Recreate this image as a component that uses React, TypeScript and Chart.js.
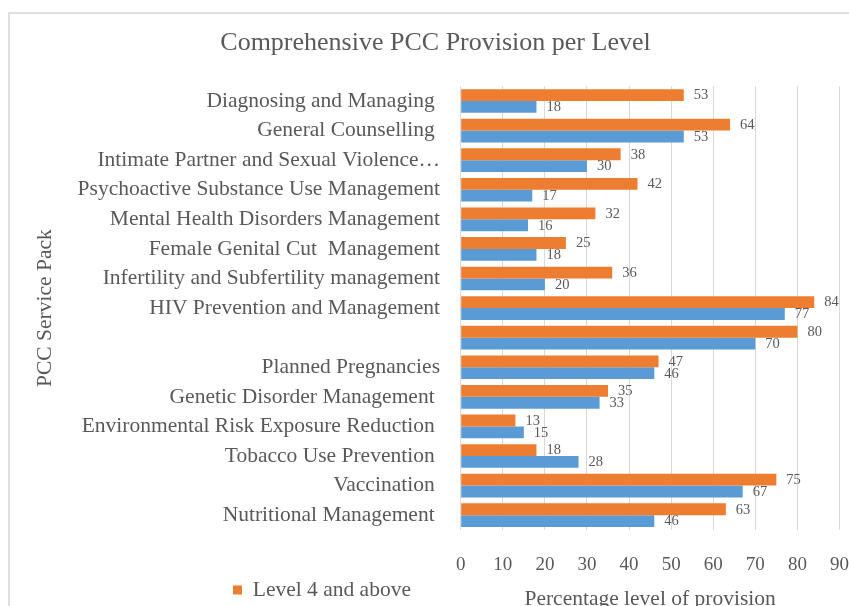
import React, { useEffect, useRef } from "react";
import { Chart, registerables } from "chart.js";

Chart.register(...registerables);

const chartTitle = "Comprehensive PCC Provision per Level";
const categories = [
  "Diagnosing and Managing ",
  "General Counselling ",
  "Intimate Partner and Sexual Violence…",
  "Psychoactive Substance Use Management",
  "Mental Health Disorders Management",
  "Female Genital Cut  Management",
  "Infertility and Subfertility management",
  "HIV Prevention and Management",
  "",
  "Planned Pregnancies",
  "Genetic Disorder Management ",
  "Environmental Risk Exposure Reduction ",
  "Tobacco Use Prevention ",
  "Vaccination ",
  "Nutritional Management ",
];
const level4Label = "Level 4 and above";
const level4Values = [53, 64, 38, 42, 32, 25, 36, 84, 80, 47, 35, 13, 18, 75, 63];
const level23Label = "Level 2 and 3";
const level23Values = [18, 53, 30, 17, 16, 18, 20, 77, 70, 46, 33, 15, 28, 67, 46];
const xTickValues = [0, 10, 20, 30, 40, 50, 60, 70, 80, 90];
const xAxisTitle = "Percentage level of provision";
const yAxisTitle = "PCC Service Pack";

const FONT = "'Liberation Serif', 'Times New Roman', serif";
const TEXT = "#595959";

const framePlugin = {
  id: "frame",
  beforeDraw(chart: any) {
    const ctx = chart.ctx;
    ctx.save();
    ctx.strokeStyle = "#e0e0e0";
    ctx.lineWidth = 2;
    ctx.strokeRect(9, 13, chart.width + 20, chart.height + 20);
    ctx.restore();
  },
};

const moverPlugin = {
  id: "mover",
  afterLayout(chart: any) {
    const lg = chart.legend;
    if (lg) {
      const w = lg.right - lg.left;
      lg.left = 233;
      lg.right = 233 + w;
      lg.top = 579.3;
      lg.bottom = 579.3 + lg.height;
    }
    const tb = chart.titleBlock;
    if (tb) {
      tb.left += 8;
      tb.right += 8;
    }
  },
};

const valueLabelPlugin = {
  id: "valueLabels",
  afterDatasetsDraw(chart: any) {
    const ctx = chart.ctx;
    ctx.save();
    ctx.font = `14.5px ${FONT}`;
    ctx.fillStyle = TEXT;
    ctx.textAlign = "left";
    ctx.textBaseline = "middle";
    chart.data.datasets.forEach((ds: any, di: number) => {
      const meta = chart.getDatasetMeta(di);
      meta.data.forEach((bar: any, i: number) => {
        ctx.fillText(String(ds.data[i]), bar.x + 10, bar.y + 0.5);
      });
    });
    ctx.restore();
  },
};

export default function App() {
  const ref = useRef<HTMLCanvasElement | null>(null);
  useEffect(() => {
    if (!ref.current) return;
    const chart = new Chart(ref.current, {
      type: "bar",
      data: {
        labels: categories,
        datasets: [
          {
            label: level4Label,
            data: level4Values,
            backgroundColor: "#ED7D31",
            categoryPercentage: 0.8,
            barPercentage: 1.0,
          },
          {
            label: level23Label,
            data: level23Values,
            backgroundColor: "#5B9BD5",
            categoryPercentage: 0.8,
            barPercentage: 1.0,
          },
        ],
      },
      options: {
        indexAxis: "y",
        animation: false,
        responsive: false,
        maintainAspectRatio: false,
        layout: { padding: { top: 12, left: 6, right: 0, bottom: -37.5 } },
        plugins: {
          title: {
            display: true,
            text: chartTitle,
            color: TEXT,
            font: { family: FONT, size: 26, weight: "normal" },
            padding: { top: 15.4, bottom: 27.6 },
          },
          legend: {
            display: true,
            position: "bottom",
            align: "start",
            labels: {
              filter: (item: any) => item.datasetIndex === 0,
              boxWidth: 9,
              boxHeight: 9,
              padding: 0,
              color: TEXT,
              font: { family: FONT, size: 21.5 },
            },
          },
          tooltip: { enabled: false },
        },
        scales: {
          x: {
            min: 0,
            max: 90,
            afterBuildTicks: (scale: any) => {
              scale.ticks = xTickValues.map((v) => ({ value: v }));
            },
            afterFit: (scale: any) => {
              scale.height = 82;
            },
            grid: {
              color: "#d9d9d9",
              drawTicks: true,
              tickLength: 23.5,
              tickColor: "rgba(0,0,0,0)",
              lineWidth: 1,
            },
            border: { display: false },
            ticks: {
              color: TEXT,
              padding: 0,
              font: { family: FONT, size: 19 },
            },
            title: {
              display: true,
              text: xAxisTitle,
              color: TEXT,
              font: { family: FONT, size: 21.5 },
              padding: { top: 0, bottom: 0 },
            },
          },
          y: {
            afterFit: (scale: any) => {
              scale.width = 454.7;
            },
            grid: { display: false, drawTicks: false },
            border: { display: false },
            ticks: {
              color: TEXT,
              padding: 20.7,
              autoSkip: false,
              font: { family: FONT, size: 21.5 },
            },
            title: {
              display: true,
              text: yAxisTitle,
              color: TEXT,
              font: { family: FONT, size: 21.5 },
              padding: { top: 26, bottom: 0 },
            },
          },
        },
      },
      plugins: [framePlugin, moverPlugin, valueLabelPlugin],
    });
    return () => chart.destroy();
  }, []);
  return (
    <div style={{ position: "absolute", left: 0, top: 0, width: 849, height: 606, background: "#fff" }}>
      <canvas ref={ref} width={849} height={606} style={{ display: "block" }} />
    </div>
  );
}
